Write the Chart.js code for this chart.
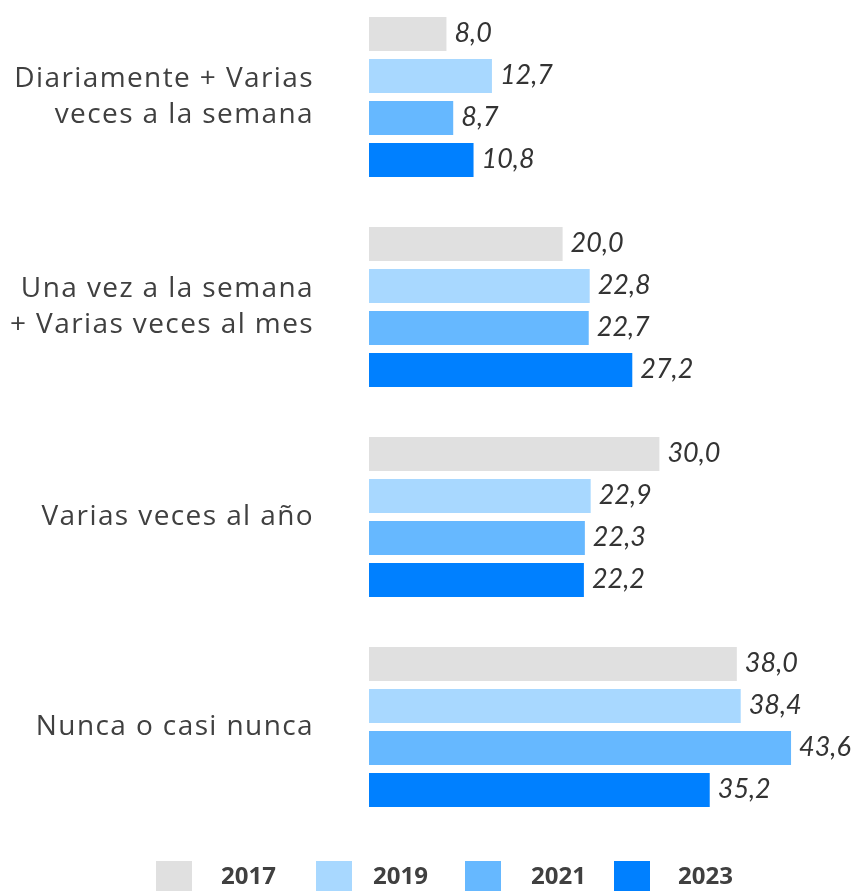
<!DOCTYPE html>
<html><head><meta charset="utf-8">
<script src="https://cdn.jsdelivr.net/npm/chart.js@4"></script>
<style>
html,body{margin:0;padding:0;background:#fff;overflow:hidden;width:858px;height:891px;}
#wrap{position:absolute;left:0;top:-8px;width:858px;height:900px;}
</style></head>
<body>
<div id="wrap"><canvas id="c" width="858" height="900"></canvas></div>
<script>
const categories = [
  ["Diariamente + Varias", "veces a la semana"],
  ["Una vez a la semana", "+ Varias veces al mes"],
  "Varias veces al año",
  "Nunca o casi nunca"
];
const seriesNames = ["2017", "2019", "2021", "2023"];
const values2017 = [8.0, 20.0, 30.0, 38.0];
const values2019 = [12.7, 22.8, 22.9, 38.4];
const values2021 = [8.7, 22.7, 22.3, 43.6];
const values2023 = [10.8, 27.2, 22.2, 35.2];
const colors = ["#e0e0e0", "#a8d8ff", "#66b8ff", "#0080ff"];

const allValues = [values2017, values2019, values2021, values2023];

const spacing = {
  id: 'spacing',
  beforeDraw(chart) { chart.ctx.letterSpacing = '1.4px'; },
  beforeDatasetsDraw(chart) { chart.ctx.letterSpacing = '0px'; }
};

const valueLabels = {
  id: 'valueLabels',
  afterDatasetsDraw(chart) {
    const ctx = chart.ctx;
    ctx.save();
    ctx.letterSpacing = '0px';
    ctx.font = 'italic 27px Lato';
    ctx.fillStyle = '#333333';
    ctx.textAlign = 'left';
    ctx.textBaseline = 'middle';
    chart.data.datasets.forEach((ds, i) => {
      const meta = chart.getDatasetMeta(i);
      meta.data.forEach((bar, j) => {
        const v = ds.data[j];
        ctx.fillText(v.toFixed(1).replace('.', ','), bar.x + 8, bar.y - 1);
      });
    });
    ctx.restore();
  }
};

const customLegend = {
  id: 'customLegend',
  afterDraw(chart) {
    const ctx = chart.ctx;
    const boxX = [156, 316, 465, 614];
    const textX = [221, 373, 531, 678];
    ctx.save();
    ctx.letterSpacing = '0px';
    ctx.font = 'bold 24px "Open Sans"';
    ctx.textBaseline = 'middle';
    ctx.textAlign = 'left';
    chart.data.datasets.forEach((ds, i) => {
      ctx.fillStyle = ds.backgroundColor;
      ctx.fillRect(boxX[i], 869, 36, 34);
      ctx.fillStyle = '#404040';
      ctx.fillText(ds.label, textX[i], 885);
    });
    ctx.restore();
  }
};

new Chart(document.getElementById('c'), {
  type: 'bar',
  data: {
    labels: categories,
    datasets: seriesNames.map((n, i) => ({
      label: n,
      data: allValues[i],
      backgroundColor: colors[i],
      borderWidth: 0,
      barPercentage: 0.81,
      categoryPercentage: 0.8
    }))
  },
  options: {
    indexAxis: 'y',
    responsive: false,
    animation: false,
    layout: { padding: { top: 0, right: 5, bottom: 60, left: 0 } },
    plugins: { legend: { display: false }, tooltip: { enabled: false } },
    scales: {
      x: { display: false, min: 0, max: 50 },
      y: {
        afterFit(scale) { scale.width = 369; scale.paddingTop = 0; scale.paddingBottom = 0; },
        grid: { display: false, drawTicks: false },
        border: { display: false },
        ticks: {
          color: '#404040',
          padding: 55,
          font: { family: 'Open Sans', size: 28, lineHeight: 1.28 }
        }
      }
    }
  },
  plugins: [spacing, valueLabels, customLegend]
});
</script>
</body></html>
